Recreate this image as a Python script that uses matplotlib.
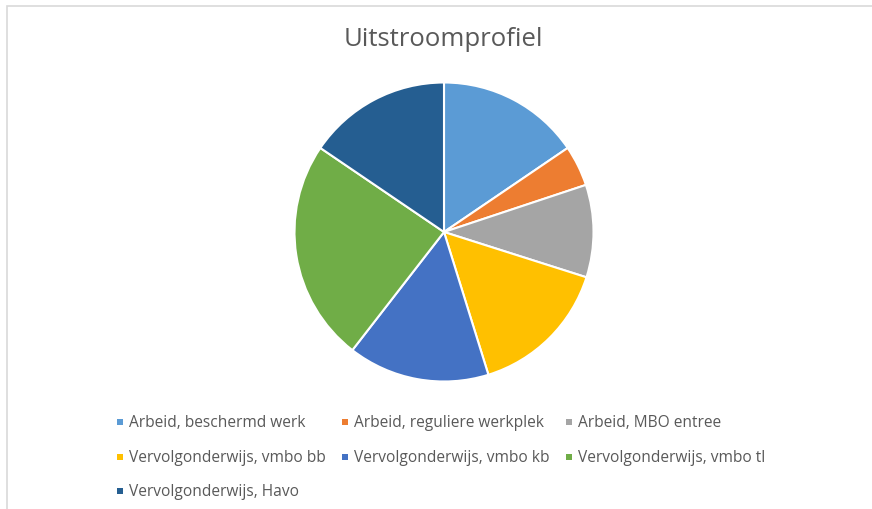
import matplotlib
matplotlib.use("Agg")
import matplotlib.pyplot as plt
from matplotlib.patches import Rectangle

title = "Uitstroomprofiel"
categories = [
    "Arbeid, beschermd werk",
    "Arbeid, reguliere werkplek",
    "Arbeid, MBO entree",
    "Vervolgonderwijs, vmbo bb",
    "Vervolgonderwijs, vmbo kb",
    "Vervolgonderwijs, vmbo tl",
    "Vervolgonderwijs, Havo",
]
values = [15.5, 4.4, 10.0, 15.3, 15.3, 24.0, 15.5]
colors = ["#5B9BD5", "#ED7D31", "#A5A5A5", "#FFC000", "#4472C4", "#70AD47", "#255E91"]

W, H = 872, 510
fig = plt.figure(figsize=(W / 100, H / 100), dpi=100)
fig.patch.set_facecolor("white")

# chart frame
frame = Rectangle((7 / W, -0.1), 1.2, (H - 7) / H + 0.1, transform=fig.transFigure,
                  fill=False, edgecolor="#d9d9d9", linewidth=1.2)
fig.patches.append(frame)

cx, cy, r = 444, 233, 151
ax = fig.add_axes([(cx - r) / W, (H - cy - r) / H, 2 * r / W, 2 * r / H])
ax.pie(values, colors=colors, startangle=90, counterclock=False, radius=1,
       wedgeprops=dict(edgecolor="white", linewidth=1.5))
ax.set_xlim(-1.01, 1.01)
ax.set_ylim(-1.01, 1.01)
ax.set_aspect("equal")
ax.axis("off")

fig.text(443 / W, 1 - 40 / H, title, ha="center", va="center",
         fontsize=18.5, color="#595959", family="Open Sans")

# legend entries laid out like the Excel legend (flowing rows)
legend_pos = [(120, 423), (345, 423), (569, 423),
              (120, 458), (345, 458), (569, 458),
              (120, 492)]
for (lx, ly), lab, col in zip(legend_pos, categories, colors):
    fig.patches.append(Rectangle(((lx - 3) / W, 1 - (ly + 3) / H), 6 / W, 6 / H,
                                 transform=fig.transFigure, facecolor=col, edgecolor="none"))
    fig.text((lx + 9) / W, 1 - ly / H, lab, ha="left", va="center",
             fontsize=11.2, color="#595959", family="Open Sans")

fig.savefig("out.png", dpi=100)
